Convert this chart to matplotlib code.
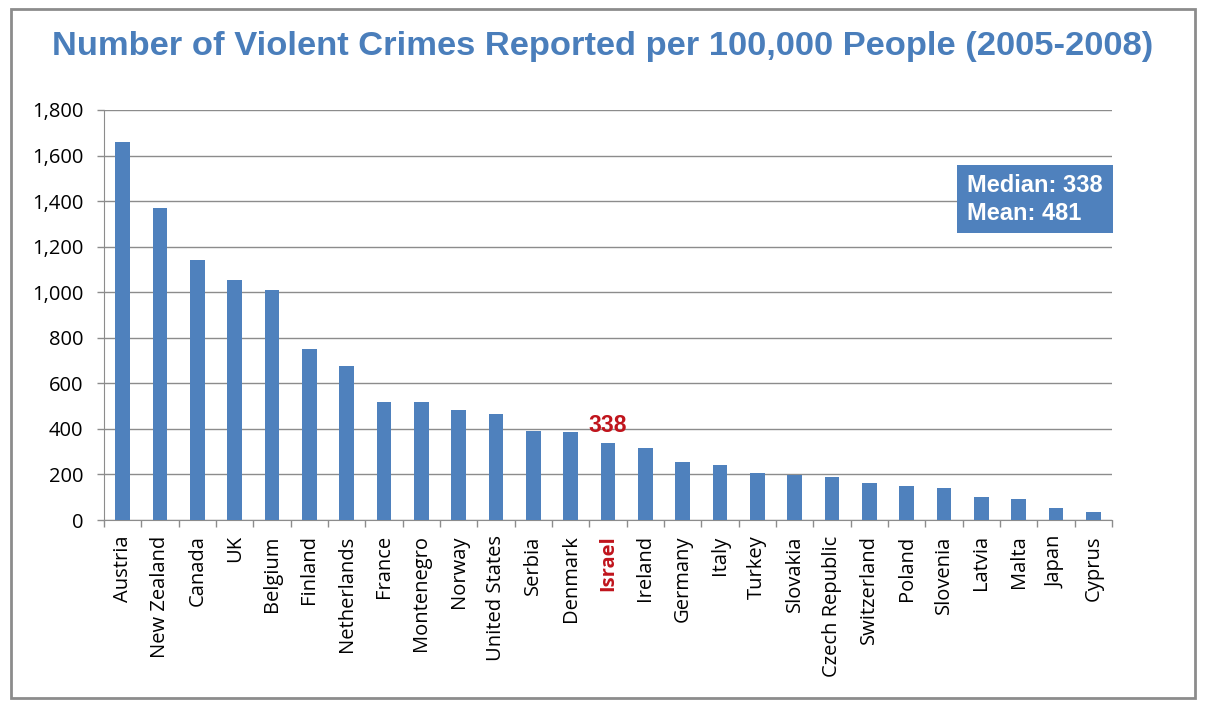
import matplotlib.pyplot as plt
from matplotlib.patches import Rectangle
from matplotlib.ticker import FuncFormatter, FixedLocator

countries = ['Austria', 'New Zealand', 'Canada', 'UK', 'Belgium', 'Finland',
             'Netherlands', 'France', 'Montenegro', 'Norway', 'United States',
             'Serbia', 'Denmark', 'Israel', 'Ireland', 'Germany', 'Italy',
             'Turkey', 'Slovakia', 'Czech Republic', 'Switzerland', 'Poland',
             'Slovenia', 'Latvia', 'Malta', 'Japan', 'Cyprus']
crimes = [1659, 1368, 1143, 1055, 1011, 752, 677, 519, 519, 484, 467,
          391, 387, 338, 317, 255, 242, 207, 197, 189, 164, 150, 141,
          101, 92, 53, 35]
highlight = 'Israel'
median_val = 338
mean_val = 481

BLUE = '#4F81BD'
RED = '#C0141C'
GRID = '#8C8C8C'
TICKFONT = 'Open Sans'

W, H = 1205, 708
fig = plt.figure(figsize=(W / 100, H / 100), dpi=100)
fig.patches.append(Rectangle((11 / W, 10 / H), 1184 / W, 689 / H,
                             transform=fig.transFigure, fill=False,
                             edgecolor='#8C8C8C', linewidth=2))

ax = fig.add_axes([104 / W, 188 / H, 1008 / W, 410 / H])
x = list(range(len(countries)))
ax.bar(x, crimes, width=0.4, color=BLUE, zorder=3)

ax.set_xlim(-0.5, len(countries) - 0.5)
ax.set_ylim(0, 1800)
ax.set_yticks(range(0, 1801, 200))
ax.yaxis.set_major_formatter(FuncFormatter(lambda v, p: f'{int(v):,}'))
ax.grid(axis='y', color=GRID, linewidth=1, zorder=0)
ax.set_axisbelow(True)

ax.set_xticks(x)
ax.set_xticklabels(countries, rotation=90, fontsize=14.5, family=TICKFONT)
ax.tick_params(axis='x', length=0, pad=11)
ax.xaxis.set_minor_locator(FixedLocator([i - 0.5 for i in range(len(countries) + 1)]))
ax.tick_params(axis='x', which='minor', length=5, color=GRID, width=1)
ax.tick_params(axis='y', length=5, color=GRID, width=1, labelsize=14.5, pad=10)
for lab in ax.get_yticklabels():
    lab.set_family(TICKFONT)

for lab in ax.get_xticklabels():
    if lab.get_text() == highlight:
        lab.set_color(RED)
        lab.set_fontweight('bold')

for side in ['top', 'right']:
    ax.spines[side].set_visible(False)
ax.spines['left'].set_color(GRID)
ax.spines['bottom'].set_color(GRID)

hi = countries.index(highlight)
ax.annotate(f'{crimes[hi]}', (hi, crimes[hi]), xytext=(0, 4),
            textcoords='offset points', ha='center', va='bottom',
            color=RED, fontsize=16.5, fontweight='bold', family='Liberation Sans')

# stats box
fig.patches.append(Rectangle((957 / W, 1 - 233 / H), 156 / W, 68 / H,
                             transform=fig.transFigure, facecolor=BLUE,
                             edgecolor='none', zorder=5))
fig.text(967 / W, 1 - 186 / H, f'Median: {median_val}', ha='left', va='center',
         color='white', fontsize=17, fontweight='bold', family='Liberation Sans', zorder=6)
fig.text(967 / W, 1 - 214 / H, f'Mean: {mean_val}', ha='left', va='center',
         color='white', fontsize=17, fontweight='bold', family='Liberation Sans', zorder=6)

fig.text(0.5, 1 - 47 / H, 'Number of Violent Crimes Reported per 100,000 People (2005-2008)',
         ha='center', va='center', fontsize=24.8, fontweight='bold',
         color='#4A7EBB', family='Liberation Sans')

fig.savefig('out.png', dpi=100)
